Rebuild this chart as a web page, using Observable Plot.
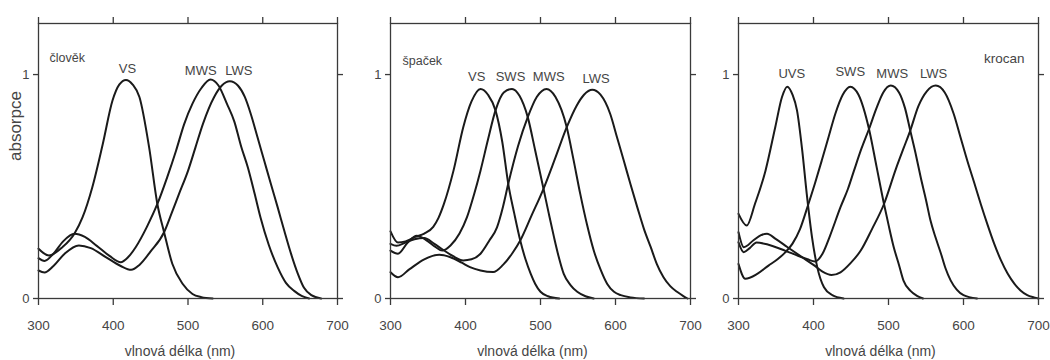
<!DOCTYPE html>
<html><head><meta charset="utf-8">
<script src="https://cdn.jsdelivr.net/npm/d3@7"></script>
<script src="https://cdn.jsdelivr.net/npm/@observablehq/plot@0.6"></script>
<style>
body{margin:0;background:#fff;}
#wrap{display:flex;width:1050px;height:360px;overflow:hidden;}
#wrap svg{overflow:visible;}
</style></head><body><div id="wrap"></div>
<script>
// ---- data: [wavelength nm, absorbance] ----
const clovekVS = [[300,0.222],[314,0.192],[332,0.229],[348,0.289],[359,0.363],[372,0.497],[386,0.69],[399,0.884],[408,0.955],[417,0.976],[426,0.955],[435,0.9],[448,0.675],[459,0.422],[468,0.296],[479,0.155],[493,0.065],[506,0.02],[518,0.006],[533,0]];
const clovekMWS = [[300,0.18],[308,0.168],[320,0.2],[333,0.255],[348,0.289],[362,0.275],[378,0.235],[395,0.19],[410,0.162],[420,0.185],[430,0.229],[445,0.32],[459,0.422],[472,0.54],[484,0.66],[495,0.78],[506,0.87],[518,0.94],[530,0.978],[541,0.95],[552,0.87],[562,0.79],[571,0.68],[580,0.586],[589,0.47],[597,0.362],[608,0.24],[620,0.139],[631,0.07],[642,0.034],[652,0.012],[662,0]];
const clovekLWS = [[300,0.125],[308,0.116],[320,0.145],[335,0.2],[354,0.237],[370,0.225],[390,0.185],[410,0.145],[424,0.128],[435,0.15],[450,0.21],[468,0.296],[478,0.38],[488,0.467],[500,0.57],[510,0.675],[520,0.78],[535,0.9],[545,0.95],[556,0.97],[567,0.95],[576,0.9],[584,0.824],[593,0.72],[602,0.615],[611,0.51],[620,0.407],[629,0.3],[638,0.198],[647,0.11],[655,0.049],[665,0.015],[678,0]];

const spacekVS = [[300,0.30],[310,0.25],[320,0.255],[333,0.275],[345,0.29],[357,0.32],[364,0.36],[371,0.42],[384,0.571],[397,0.765],[408,0.88],[420,0.936],[430,0.91],[440,0.84],[449,0.70],[457,0.512],[465,0.38],[473,0.259],[480,0.175],[487,0.11],[493,0.065],[500,0.03],[510,0.01],[525,0]];
const spacekSWS = [[300,0.214],[310,0.2],[323,0.25],[335,0.28],[348,0.26],[360,0.23],[369,0.214],[380,0.237],[392,0.29],[402,0.363],[411,0.46],[420,0.571],[430,0.71],[440,0.84],[451,0.92],[462,0.936],[472,0.905],[483,0.81],[493,0.66],[504,0.49],[511,0.38],[518,0.274],[524,0.19],[531,0.11],[540,0.06],[549,0.03],[560,0.01],[571,0]];
const spacekMWS = [[300,0.244],[308,0.235],[320,0.25],[332,0.265],[345,0.27],[358,0.245],[369,0.22],[383,0.19],[397,0.17],[408,0.175],[420,0.2],[432,0.26],[442,0.318],[450,0.41],[457,0.512],[470,0.68],[483,0.81],[495,0.9],[508,0.936],[520,0.9],[535,0.765],[544,0.62],[553,0.467],[562,0.33],[571,0.214],[580,0.13],[589,0.065],[598,0.03],[607,0.015],[620,0.005],[638,0]];
const spacekLWS = [[300,0.117],[310,0.095],[325,0.13],[345,0.175],[365,0.195],[380,0.184],[395,0.16],[406,0.14],[420,0.125],[437,0.118],[450,0.15],[462,0.2],[473,0.259],[488,0.37],[504,0.49],[520,0.63],[535,0.765],[548,0.86],[558,0.91],[569,0.932],[580,0.91],[593,0.824],[602,0.72],[611,0.616],[620,0.51],[629,0.408],[638,0.31],[647,0.229],[655,0.155],[664,0.095],[673,0.055],[682,0.03],[690,0.012],[696,0]];

const krocanUVS = [[300,0.378],[311,0.326],[322,0.423],[336,0.571],[349,0.765],[358,0.9],[365,0.946],[372,0.91],[378,0.84],[385,0.66],[391,0.467],[398,0.274],[405,0.14],[414,0.05],[425,0.015],[440,0]];
const krocanSWS = [[300,0.154],[309,0.088],[325,0.11],[340,0.147],[352,0.175],[362,0.205],[372,0.245],[382,0.31],[393,0.42],[402,0.515],[411,0.616],[420,0.72],[429,0.824],[439,0.91],[449,0.946],[460,0.91],[474,0.757],[484,0.59],[494,0.422],[500,0.33],[507,0.229],[514,0.15],[520,0.08],[529,0.035],[538,0.012],[546,0]];
const krocanMWS = [[300,0.251],[307,0.207],[315,0.225],[324,0.25],[340,0.24],[362,0.214],[380,0.19],[392,0.175],[402,0.165],[412,0.2],[422,0.28],[436,0.408],[446,0.49],[454,0.571],[464,0.67],[474,0.757],[484,0.85],[493,0.92],[503,0.951],[514,0.92],[522,0.85],[529,0.75],[536,0.65],[543,0.54],[550,0.44],[556,0.348],[563,0.27],[570,0.2],[576,0.135],[583,0.08],[591,0.04],[600,0.015],[618,0]];
const krocanLWS = [[300,0.296],[307,0.229],[320,0.26],[330,0.283],[338,0.289],[350,0.265],[365,0.23],[385,0.184],[400,0.15],[412,0.12],[424,0.105],[436,0.117],[450,0.16],[463,0.214],[478,0.31],[494,0.422],[510,0.58],[520,0.67],[529,0.75],[540,0.86],[551,0.925],[563,0.951],[575,0.92],[587,0.824],[596,0.72],[605,0.616],[614,0.52],[623,0.422],[632,0.33],[641,0.244],[650,0.17],[659,0.11],[668,0.065],[676,0.036],[685,0.015],[694,0.005],[700,0]];

// cone labels: [text, wavelength, absorbance]
const clovekLabels = [["VS",419,1.027],["MWS",517,1.018],["LWS",568,1.018]];
const spacekLabels = [["VS",415,0.988],["SWS",460,0.988],["MWS",511,0.988],["LWS",574,0.98]];
const krocanLabels = [["UVS",371,1.003],["SWS",449,1.01],["MWS",505,1.003],["LWS",560,1.003]];

const xTicks = [300, 400, 500, 600, 700];
const yTicks = [0, 1];
const xLabel = "vlnová délka (nm)";
const yLabel = "absorpce";
const speciesNames = ["člověk", "špaček", "krocan"];

const FONT = '"Liberation Sans",Arial,Helvetica,sans-serif';
const panels = [
  {name: speciesNames[0], curves: {VS: clovekVS, MWS: clovekMWS, LWS: clovekLWS}, labels: clovekLabels, ml: 38, mr: 13, right: false, nameSize: 12.5, ndx: 11, ndy: 34},
  {name: speciesNames[1], curves: {VS: spacekVS, SWS: spacekSWS, MWS: spacekMWS, LWS: spacekLWS}, labels: spacekLabels, ml: 40, mr: 10, right: false, nameSize: 12.5, ndx: 12, ndy: 37},
  {name: speciesNames[2], curves: {UVS: krocanUVS, SWS: krocanSWS, MWS: krocanMWS, LWS: krocanLWS}, labels: krocanLabels, ml: 38, mr: 12, right: true, nameSize: 13.5, ndx: -14, ndy: 35}
];

const ink = "#1a1a1a", axisInk = "#3a3a3a", textInk = "#454545";
const fmt = d3.format("d");

panels.forEach((p, i) => {
  const rows = [];
  for (const [cone, pts] of Object.entries(p.curves)) for (const [nm, a] of pts) rows.push({cone, nm, a});
  const labs = p.labels.map(([t, nm, v]) => ({t, nm, v}));
  const marks = [
    Plot.line(rows, {x: "nm", y: "a", z: "cone", stroke: ink, strokeWidth: 2, curve: "monotone-x"}),
    Plot.frame({stroke: axisInk, strokeWidth: 1.3}),
    Plot.axisX({anchor: "bottom", ticks: xTicks, tickSize: 7, tickPadding: 15, tickFormat: fmt, stroke: axisInk, strokeWidth: 1.3, fill: textInk, fontSize: 13.5, label: null}),
    Plot.axisX({anchor: "top", ticks: xTicks, tickSize: 7, stroke: axisInk, strokeWidth: 1.3, tickFormat: () => "", label: null}),
    Plot.axisY({anchor: "left", ticks: yTicks, tickSize: 5, tickPadding: 4, tickFormat: fmt, stroke: axisInk, strokeWidth: 1.3, fill: textInk, fontSize: 13, label: null}),
    Plot.axisY({anchor: "right", ticks: yTicks, tickSize: 5, stroke: axisInk, strokeWidth: 1.3, tickFormat: () => "", label: null}),
    Plot.text(labs, {x: "nm", y: "v", text: "t", fontSize: 13, fill: textInk}),
    Plot.text([p.name], {frameAnchor: p.right ? "top-right" : "top-left", dx: p.ndx, dy: p.ndy, textAnchor: p.right ? "end" : "start", lineAnchor: "middle", fontSize: p.nameSize, fill: textInk}),
    Plot.text([xLabel], {frameAnchor: "bottom", dx: -8, dy: 53, lineAnchor: "middle", fontSize: 14, fill: textInk})
  ];
  if (i === 0) marks.push(Plot.text([yLabel], {frameAnchor: "left", dx: -23, rotate: -90, lineAnchor: "middle", fontSize: 17, fill: textInk}));
  const chart = Plot.plot({
    width: 350, height: 360,
    marginTop: 23, marginBottom: 62, marginLeft: p.ml, marginRight: p.mr,
    style: {fontFamily: FONT, background: "none", color: textInk, overflow: "visible"},
    x: {domain: [300, 700]},
    y: {domain: [0, 1.228]},
    marks
  });
  document.getElementById("wrap").appendChild(chart);
});
</script></body></html>
